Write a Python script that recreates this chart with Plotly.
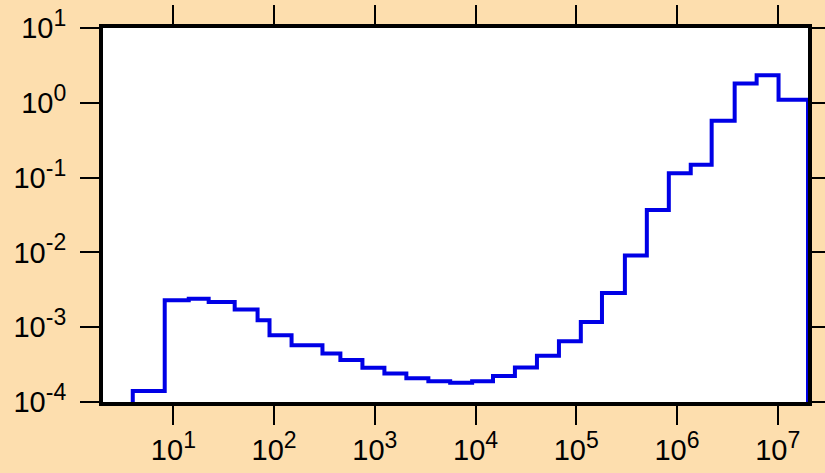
import plotly.graph_objects as go

# Bin edges (x) and histogram values (y)
bin_edges = [3.95, 8.2, 14.2, 22.4, 40.6, 68.5, 90, 149, 302, 455, 753, 1245,
             2056, 3400, 5600, 9250, 14900, 24600, 40700, 67300, 111000,
             180000, 304000, 502000, 830000, 1.37e6, 2.21e6, 3.74e6, 6.18e6,
             1.02e7, 2.0e7]
bin_values = [1.4e-4, 2.3e-3, 2.4e-3, 2.17e-3, 1.72e-3, 1.24e-3, 7.8e-4, 5.75e-4,
              4.45e-4, 3.63e-4, 2.86e-4, 2.41e-4, 2.07e-4, 1.9e-4, 1.81e-4,
              1.9e-4, 2.22e-4, 2.9e-4, 4.14e-4, 6.5e-4, 1.17e-3, 2.86e-3,
              9.1e-3, 3.7e-2, 0.114, 0.148, 0.575, 1.81, 2.34, 1.1]
floor_value = 1e-4

SUP = "10<sup><span style='font-size:23px'>{}</span></sup>"
x_tickvals = [1e1, 1e2, 1e3, 1e4, 1e5, 1e6, 1e7]
x_exponents = ["1", "2", "3", "4", "5", "6", "7"]
y_tickvals = [1e-4, 1e-3, 1e-2, 1e-1, 1e0, 1e1]
y_exponents = ["-4", "-3", "-2", "-1", "0", "1"]
x_ticktext = [SUP.format(e) for e in x_exponents]
y_ticktext = [SUP.format(e) for e in y_exponents]

# hv steps: (e0,floor) -> (e0,v0) -> (e1,v1) ... -> (eN,v_last) -> (eN,floor)
xs = [bin_edges[0]] + bin_edges + [bin_edges[-1]]
ys = [floor_value] + bin_values + [bin_values[-1], floor_value]

fig = go.Figure()
fig.add_trace(go.Scatter(
    x=xs, y=ys,
    mode="lines", line=dict(color="#0000E6", width=4, shape="hv"),
    hoverinfo="skip", showlegend=False,
))

BG = "#FDDEAE"
font = dict(family="Arial, Liberation Sans, sans-serif", size=29, color="black")
axis_common = dict(
    type="log", showgrid=False, zeroline=False, automargin=False,
    showline=True, linecolor="black", linewidth=4, mirror="ticks",
    ticks="outside", ticklen=19, tickwidth=2, tickcolor="black",
    tickfont=font,
)
fig.update_xaxes(range=[0.301, 7.301], tickvals=x_tickvals, ticktext=x_ticktext,
                 ticklabelstandoff=0, **axis_common)
fig.update_yaxes(range=[-4, 1], tickvals=y_tickvals, ticktext=y_ticktext,
                 ticklabelstandoff=8, **axis_common)
fig.update_layout(
    width=825, height=473,
    margin=dict(l=103, r=17, t=28, b=71),
    paper_bgcolor=BG, plot_bgcolor="white",
    font=font,
)
fig.write_html(
    "out.html",
    config={"displayModeBar": False, "staticPlot": True},
    post_script="document.body.style.margin='0px';"
                "document.body.style.background='" + BG + "';",
)
